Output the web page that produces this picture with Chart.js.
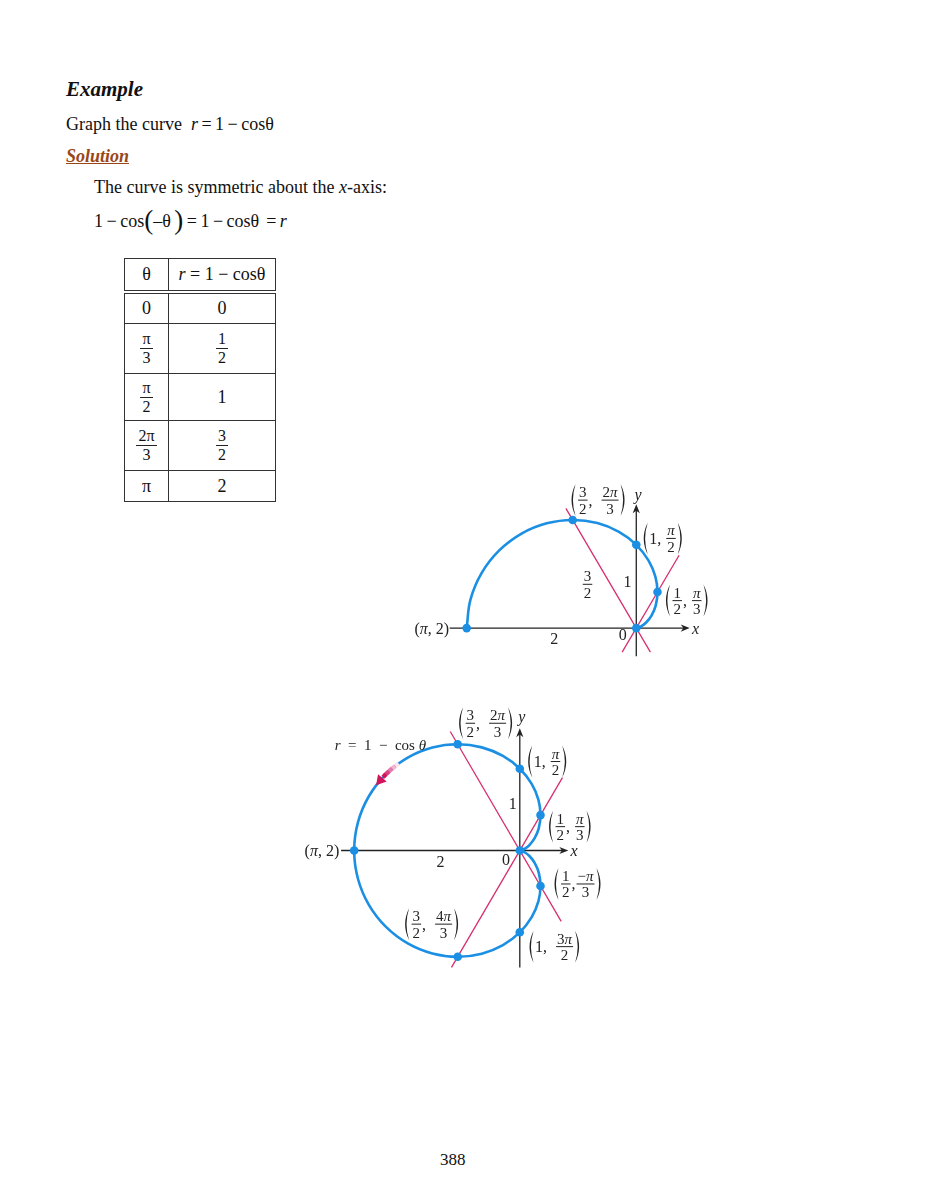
<!DOCTYPE html>
<html>
<head>
<meta charset="utf-8">
<script src="https://cdn.jsdelivr.net/npm/chart.js@4.4.1/dist/chart.umd.min.js"></script>
<style>
  body { margin:0; background:#fff; width:927px; height:1200px; position:relative;
         font-family:"Liberation Serif","Times New Roman",serif; color:#111; }
  .t { position:absolute; line-height:1; white-space:nowrap; }
  .bp { font-size:27px; line-height:0; position:relative; top:2px; }
  #tbl { position:absolute; left:124px; top:258px; border-collapse:collapse; font-size:18px; }
  #tbl td { border:1px solid #333; text-align:center; vertical-align:middle; padding:0; }
  #tbl tr.head td { border-bottom:4px double #333; }
  .fr { display:inline-block; vertical-align:middle; text-align:center; font-size:16px; line-height:1.1; }
  .fr span { display:block; padding:0 2px; }
  .fr .num { border-bottom:1px solid #222; }
  .box { position:absolute; }
</style>
</head>
<body>

<div class="t" style="left:66px;top:79px;font-size:21px;font-weight:bold;font-style:italic;">Example</div>
<div class="t" style="left:66px;top:115px;font-size:18px;">Graph the curve &nbsp;<span style="word-spacing:-1px"><i>r</i> = 1 − cosθ</span></div>
<div class="t" style="left:66px;top:146.6px;font-size:18px;font-weight:bold;font-style:italic;color:#9a4716;text-decoration:underline;">Solution</div>
<div class="t" style="left:94px;top:177.6px;font-size:18px;">The curve is symmetric about the <i>x</i>-axis:</div>
<div class="t" style="left:94px;top:211.6px;font-size:18px;word-spacing:-1px;">1 − cos<span class="bp">(</span>–θ <span class="bp">)</span> = 1 − cosθ &nbsp;= <i>r</i></div>

<table id="tbl"></table>

<div class="box" style="left:400px;top:470px;width:340px;height:200px;"><canvas id="c1" width="340" height="200"></canvas></div>
<div class="box" style="left:280px;top:690px;width:350px;height:300px;"><canvas id="c2" width="350" height="300"></canvas></div>

<div class="t" style="left:440px;top:1150.8px;font-size:17px;">388</div>

<script>
// table values
const tableTheta = [['0'], ['π', '3'], ['π', '2'], ['2π', '3'], ['π']];
const tableR = [['0'], ['1', '2'], ['1'], ['3', '2'], ['2']];

// marked points (theta in degrees, r)
const halfPointTheta = [0, 60, 90, 120, 180];
const halfPointR = [0, 0.5, 1, 1.5, 2];
const fullPointTheta = [0, 60, 90, 120, 180, 240, 270, 300];
const fullPointR = [0, 0.5, 1, 1.5, 2, 1.5, 1, 0.5];

// the curve, read every 10 degrees
const curveTheta = [0, 10, 20, 30, 40, 50, 60, 70, 80, 90, 100, 110, 120, 130, 140, 150, 160, 170, 180,
  190, 200, 210, 220, 230, 240, 250, 260, 270, 280, 290, 300, 310, 320, 330, 340, 350, 360];
const curveR = [0, 0.0152, 0.0603, 0.134, 0.234, 0.3572, 0.5, 0.658, 0.8264, 1, 1.1736, 1.342, 1.5, 1.6428, 1.766, 1.866, 1.9397, 1.9848, 2,
  1.9848, 1.9397, 1.866, 1.766, 1.6428, 1.5, 1.342, 1.1736, 1, 0.8264, 0.658, 0.5, 0.3572, 0.234, 0.134, 0.0603, 0.0152, 0];

// red rays through the pole: angle, and r at both ends
const rayTheta = [120, 60];
const halfRayR = [[-0.333, 1.66], [-0.333, 1.01]];
const fullRayR = [[-1.0, 1.68], [-1.65, 1.03]];

// direction arrow on the full curve
const arrowTheta = [144, 145.5, 147, 148.5, 150, 151.5];
const arrowR = [1.809, 1.824, 1.839, 1.853, 1.866, 1.879];
const arrowHeadTheta = [153];
const arrowHeadR = [1.891];
const arrowShades = ['#fbe3ee', '#f3b3cd', '#e978a8', '#dd3f80', '#d4145a'];

const BLUE = '#1a8fe3';
const RED = '#d62f70';
const INK = '#222';
const TXT = 16, FRC = 15;

const rad = d => d * Math.PI / 180;
function polar(thetas, rs) {
  return thetas.map((t, i) => ({ x: rs[i] * Math.cos(rad(t)), y: rs[i] * Math.sin(rad(t)) }));
}

// build the table
let html = '<tr class="head" style="height:33px"><td style="width:43px">θ</td><td style="width:106px"><i>r</i> = 1 − cosθ</td></tr>';
const rowH = [32, 50, 47, 50, 31];
function cell(a) {
  if (a.length === 2) return '<span class="fr"><span class="num">' + a[0] + '</span><span>' + a[1] + '</span></span>';
  return a[0];
}
for (let i = 0; i < tableTheta.length; i++) {
  html += '<tr style="height:' + rowH[i] + 'px"><td>' + cell(tableTheta[i]) + '</td><td>' + cell(tableR[i]) + '</td></tr>';
}
document.getElementById('tbl').innerHTML = html;

// math label drawing
const ITAL = 'πθrxy';
function run(ctx, s, x, base, size, draw) {
  let w = 0;
  for (const ch of s) {
    ctx.font = (ITAL.includes(ch) ? 'italic ' : '') + size + 'px "Liberation Serif"';
    const cw = ctx.measureText(ch).width;
    if (draw) ctx.fillText(ch, x + w, base);
    w += cw;
  }
  return w;
}
function tokWidth(ctx, tok, size) {
  if (typeof tok === 'string') return run(ctx, tok, 0, 0, size, false);
  return Math.max(run(ctx, tok.n, 0, 0, FRC, false), run(ctx, tok.d, 0, 0, FRC, false)) + 4;
}
function paren(ctx, x, cy, left) {
  const top = cy - 16, bot = cy + 16, mid = cy;
  ctx.beginPath();
  if (left) {
    ctx.moveTo(x + 6.5, top);
    ctx.quadraticCurveTo(x - 1.5, mid, x + 6.5, bot);
    ctx.quadraticCurveTo(x + 1.3, mid, x + 6.5, top);
  } else {
    ctx.moveTo(x + 1, top);
    ctx.quadraticCurveTo(x + 9, mid, x + 1, bot);
    ctx.quadraticCurveTo(x + 6.2, mid, x + 1, top);
  }
  ctx.fill();
}
function drawLabel(ctx, cx, cy, lab) {
  const size = lab.size || TXT;
  const pw = lab.paren ? 8 : 0;
  let W = 2 * pw;
  lab.parts.forEach(p => { W += tokWidth(ctx, p, size); });
  let x = lab.align === 'right' ? cx - W : lab.align === 'left' ? cx : cx - W / 2;
  ctx.fillStyle = INK;
  ctx.textBaseline = 'alphabetic';
  ctx.textAlign = 'left';
  if (lab.paren) { paren(ctx, x, cy, true); x += pw; }
  lab.parts.forEach(p => {
    const w = tokWidth(ctx, p, size);
    if (typeof p === 'string') {
      run(ctx, p, x, cy + 5.5, size, true);
    } else {
      const wn = run(ctx, p.n, 0, 0, FRC, false), wd = run(ctx, p.d, 0, 0, FRC, false);
      run(ctx, p.n, x + (w - wn) / 2, cy - 3, FRC, true);
      run(ctx, p.d, x + (w - wd) / 2, cy + 13.5, FRC, true);
      ctx.fillRect(x + 1, cy - 0.5, w - 2, 1);
    }
    x += w;
  });
  if (lab.paren) paren(ctx, x, cy, false);
}
function arrowHead(ctx, x, y, dx, dy) {
  const L = 9, H = 3.6;
  const px = -dy, py = dx;
  ctx.beginPath();
  ctx.moveTo(x, y);
  ctx.lineTo(x - dx * L + px * H, y - dy * L + py * H);
  ctx.lineTo(x - dx * L * 0.7, y - dy * L * 0.7);
  ctx.lineTo(x - dx * L - px * H, y - dy * L - py * H);
  ctx.closePath();
  ctx.fill();
}
function overlay(xAxis, yAxis, labels) {
  return {
    id: 'overlay',
    beforeDatasetsDraw(chart) {
      const ctx = chart.ctx, sx = chart.scales.x, sy = chart.scales.y;
      ctx.save();
      ctx.strokeStyle = INK; ctx.fillStyle = INK; ctx.lineWidth = 1.3;
      const y0 = sy.getPixelForValue(0), x0 = sx.getPixelForValue(0);
      const xa = sx.getPixelForValue(xAxis[0]), xb = sx.getPixelForValue(xAxis[1]);
      const ya = sy.getPixelForValue(yAxis[0]), yb = sy.getPixelForValue(yAxis[1]);
      ctx.beginPath(); ctx.moveTo(xa, y0); ctx.lineTo(xb - 4, y0); ctx.stroke();
      ctx.beginPath(); ctx.moveTo(x0, ya); ctx.lineTo(x0, yb + 4); ctx.stroke();
      arrowHead(ctx, xb, y0, 1, 0);
      arrowHead(ctx, x0, yb, 0, -1);
      ctx.restore();
    },
    afterDatasetsDraw(chart) {
      const ctx = chart.ctx, sx = chart.scales.x, sy = chart.scales.y;
      ctx.save();
      labels.forEach(l => drawLabel(ctx, sx.getPixelForValue(l.x), sy.getPixelForValue(l.y), l));
      ctx.restore();
    }
  };
}

function pointSet(data) {
  return { data, showLine: false, pointRadius: 4.3, pointBackgroundColor: BLUE, pointBorderWidth: 0, clip: false };
}
function curveSet(data) {
  return { data, showLine: true, pointRadius: 0, borderColor: BLUE, borderWidth: 2.6, tension: 0.4, fill: false, clip: false };
}
function raySet(theta, rr) {
  return { data: polar([theta, theta], rr), showLine: true, pointRadius: 0, borderColor: RED, borderWidth: 1.3, clip: false };
}
function options(xr, yr) {
  return {
    responsive: false, animation: false, devicePixelRatio: 1,
    layout: { padding: 0 },
    plugins: { legend: { display: false }, tooltip: { enabled: false } },
    events: [],
    scales: {
      x: { type: 'linear', min: xr[0], max: xr[1], display: false },
      y: { type: 'linear', min: yr[0], max: yr[1], display: false }
    }
  };
}

const F = (n, d) => ({ n, d });

// half curve (0 to pi)
const halfIdx = curveTheta.map((t, i) => i).filter(i => curveTheta[i] <= 180);
const halfCurve = polar(halfIdx.map(i => curveTheta[i]), halfIdx.map(i => curveR[i]));

new Chart(document.getElementById('c1'), {
  type: 'scatter',
  data: {
    datasets: [
      pointSet(polar(halfPointTheta, halfPointR)),
      curveSet(halfCurve),
      raySet(rayTheta[0], halfRayR[0]),
      raySet(rayTheta[1], halfRayR[1])
    ]
  },
  options: options([-2.7356, 1.1724], [-0.4517, 1.8471]),
  plugins: [overlay([-2.2, 0.63], [-0.338, 1.486], [
    { x: -0.448, y: 1.537, paren: true, parts: [F('3', '2'), ',  ', F('2π', '3')] },
    { x: 0.02, y: 1.606, parts: ['y'] },
    { x: 0.315, y: 1.077, paren: true, parts: ['1, ', F('π', '2')] },
    { x: 0.598, y: 0.330, paren: true, parts: [F('1', '2'), ', ', F('π', '3')] },
    { x: -0.575, y: 0.526, parts: [F('3', '2')] },
    { x: -0.103, y: 0.56, parts: ['1'] },
    { x: -2.207, y: 0, align: 'right', parts: ['(π, 2)'] },
    { x: -0.966, y: -0.130, parts: ['2'] },
    { x: -0.161, y: -0.072, parts: ['0'] },
    { x: 0.70, y: 0, parts: ['x'] }
  ])]
});

new Chart(document.getElementById('c2'), {
  type: 'scatter',
  data: {
    datasets: [
      pointSet(polar(fullPointTheta, fullPointR)),
      { data: polar(arrowHeadTheta, arrowHeadR), showLine: false, pointStyle: 'triangle', rotation: 220,
        pointRadius: 6.5, pointBackgroundColor: '#d4145a', pointBorderWidth: 0, clip: false },
      { data: polar(arrowTheta, arrowR), showLine: true, pointRadius: 0, borderWidth: 4.5, tension: 0.3,
        segment: { borderColor: c => arrowShades[c.p0DataIndex] }, borderColor: '#d4145a', clip: false },
      curveSet(polar(curveTheta, curveR)),
      raySet(rayTheta[0], fullRayR[0]),
      raySet(rayTheta[1], fullRayR[1])
    ]
  },
  options: options([-2.8174, 1.2523], [-1.6257, 1.883]),
  plugins: [overlay([-2.158, 0.586], [-1.43, 1.494], [
    { x: -1.684, y: 1.298, size: 15, parts: ['r  =  1  −  cos θ'] },
    { x: -0.41, y: 1.556, paren: true, parts: [F('3', '2'), ',  ', F('2π', '3')] },
    { x: 0.025, y: 1.637, parts: ['y'] },
    { x: 0.334, y: 1.088, paren: true, parts: ['1, ', F('π', '2')] },
    { x: -0.085, y: 0.573, parts: ['1'] },
    { x: 0.607, y: 0.292, paren: true, parts: [F('1', '2'), ', ', F('π', '3')] },
    { x: -2.18, y: 0, align: 'right', parts: ['(π, 2)'] },
    { x: -0.957, y: -0.129, parts: ['2'] },
    { x: -0.166, y: -0.105, parts: ['0'] },
    { x: 0.655, y: 0, parts: ['x'] },
    { x: 0.70, y: -0.409, paren: true, parts: [F('1', '2'), ',', F('−π', '3')] },
    { x: -1.062, y: -0.90, paren: true, parts: [F('3', '2'), ',  ', F('4π', '3')] },
    { x: 0.42, y: -1.175, paren: true, parts: ['1,  ', F('3π', '2')] }
  ])]
});
</script>
</body>
</html>
